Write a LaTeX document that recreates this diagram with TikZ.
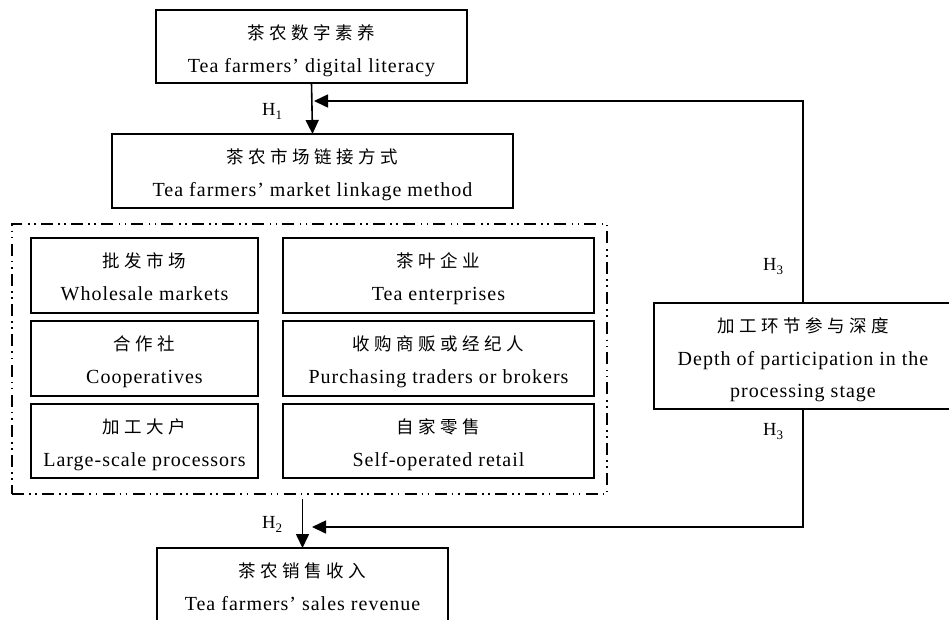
\documentclass[tikz,border=0pt]{standalone}
\usepackage{fontspec}
\setmainfont{Liberation Serif}
\newfontfamily\enf{Liberation Serif}[LetterSpace=5]
\newfontfamily\cjk{Noto Sans CJK SC}[LetterSpace=26]
\usetikzlibrary{arrows.meta,calc}
\newcommand\hlab[1]{H\raisebox{-4pt}{\fontsize{13}{13}\selectfont #1}}
% name, x1, y1, x2, y2, chinese, english
\newcommand\tbox[7]{%
  \node[boxst, minimum width={#4-#2}, minimum height={#5-#3}] (#1) at ({(#2+#4)/2},{(#3+#5)/2}) {};
  \node[cnst] (#1-cn) at ([yshift=-29pt]#1.north) {#6};
  \node[enst] (#1-en) at ([yshift=-62pt]#1.north) {#7};
}
\begin{document}
\begin{tikzpicture}[x=1pt,y=-1pt,
  boxst/.style={draw, line width=1.6pt, inner sep=0pt, outer sep=0pt, rectangle},
  cnst/.style={anchor=base, inner sep=0pt, font=\cjk\fontsize{17.5}{20}\selectfont},
  enst/.style={anchor=base, inner sep=0pt, font=\enf\fontsize{20}{24}\selectfont},
  hst/.style={anchor=base west, inner sep=0pt, font=\fontsize{18.5}{20}\selectfont},
  arr/.style={line width=1.6pt, -{Triangle[length=14pt,width=13pt]}},
  grpst/.style={draw, line width=1.6pt, dash pattern=on 12pt off 5pt on 1.6pt off 4.5pt on 1.6pt off 5.5pt, inner sep=0pt, outer sep=0pt, rectangle}
]
\useasboundingbox (0,0) rectangle (949,619);
\clip (0,0) rectangle (949,619);

% main boxes
\tbox{top}{156}{10}{467}{83}{茶农数字素养}{Tea farmers’ digital literacy}
\tbox{mid}{112}{134}{513}{208}{茶农市场链接方式}{Tea farmers’ market linkage method}

% group of linkage methods
\node[grpst, minimum width=595, minimum height=270] (grp) at (309.5,359) {};
\tbox{b11}{31}{238}{258}{313}{批发市场}{Wholesale markets}
\tbox{b12}{283}{238}{594}{313}{茶叶企业}{Tea enterprises}
\tbox{b21}{31}{321}{258}{396}{合作社}{Cooperatives}
\tbox{b22}{283}{321}{594}{396}{收购商贩或经纪人}{Purchasing traders or brokers}
\tbox{b31}{31}{404}{258}{478}{加工大户}{Large-scale processors}
\tbox{b32}{283}{404}{594}{478}{自家零售}{Self-operated retail}

% bottom box (cut by the picture edge)
\tbox{bot}{157}{548}{448}{640}{茶农销售收入}{Tea farmers’ sales revenue}

% right box (cut by the picture edge)
\node[boxst, minimum width=298, minimum height=106] (rbox) at (803,356) {};
\node[cnst] (rbox-cn) at ([yshift=-29pt]rbox.north) {加工环节参与深度};
\node[enst] (rbox-en1) at ([yshift=-62pt]rbox.north) {Depth of participation in the};
\node[enst] (rbox-en2) at ([yshift=-94pt]rbox.north) {processing stage};

% connectors
\coordinate (j1) at (314,101);
\coordinate (j2) at (312,527);
\coordinate (s3) at ($(grp.south -| bot.north)+(0,5)$);
\draw[arr] (top.south) -- (mid.north);
\draw[arr] (rbox.north) |- (j1);
\draw[arr] (s3) -- (bot.north);
\draw[arr] (rbox.south) |- (j2);

% labels
\node[hst] (h1) at (262,115) {\hlab{1}};
\node[hst] (h2) at (262,528) {\hlab{2}};
\node[hst] (h3a) at (763,270) {\hlab{3}};
\node[hst] (h3b) at (763,435) {\hlab{3}};
\end{tikzpicture}
\end{document}
